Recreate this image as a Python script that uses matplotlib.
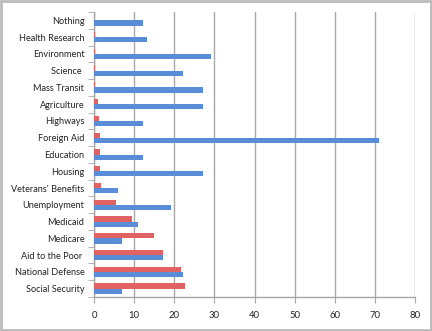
import numpy as np
import matplotlib.pyplot as plt
from matplotlib.patches import Rectangle

# categorias de abajo hacia arriba
categorias = ["Social Security", "National Defense", "Aid to the Poor ", "Medicare",
              "Medicaid", "Unemployment", "Veterans' Benefits", "Housing",
              "Education", "Foreign Aid", "Highways", "Agriculture",
              "Mass Transit", "Science ", "Environment", "Health Research", "Nothing"]

serie_roja = [22.8, 21.8, 17.1, 14.9, 9.5, 5.4, 1.7, 1.6,
              1.6, 1.4, 1.2, 0.9, 0.3, 0.2, 0.2, 0.2, 0.0]
serie_azul = [7.1, 22.1, 17.1, 7.1, 11.0, 19.1, 6.0, 27.1,
              12.1, 71.1, 12.1, 27.1, 27.1, 22.1, 29.1, 13.1, 12.1]

x_ticks = [0, 10, 20, 30, 40, 50, 60, 70, 80]

ROJO = "#E06262"
AZUL = "#5A8DD8"
GRIS = "#A8A8A8"

plt.rcParams["font.family"] = ["Lato", "DejaVu Sans"]

fig = plt.figure(figsize=(4.32, 3.31), dpi=100)
ax = fig.add_axes([94 / 432, 34 / 331, 321 / 432, 285 / 331])

y = np.arange(len(categorias))
h = 0.31
ax.barh(y + h / 2, serie_roja, height=h, color=ROJO, zorder=3)
ax.barh(y - h / 2, serie_azul, height=h, color=AZUL, zorder=3)

ax.set_xlim(0, 80)
ax.set_ylim(-0.5, len(categorias) - 0.5)
ax.set_xticks(x_ticks)
ax.set_xticklabels([str(t) for t in x_ticks], fontsize=6.8, color="#222222")
ax.set_yticks(y)
ax.set_yticklabels(categorias, fontsize=6.6, color="#222222")
ax.set_yticks(np.arange(len(categorias) + 1) - 0.5, minor=True)
ax.tick_params(axis="y", which="major", length=0, pad=7)
ax.tick_params(axis="y", which="minor", length=4, color=GRIS, direction="out")
ax.tick_params(axis="x", length=4, color=GRIS, direction="out", pad=6)

ax.grid(True, axis="x", color=GRIS, linewidth=1, zorder=0)
for lado in ["top", "right"]:
    ax.spines[lado].set_visible(False)
for lado in ["left", "bottom"]:
    ax.spines[lado].set_color(GRIS)
    ax.spines[lado].set_linewidth(1)

# borde gris de la figura
fig.patches.append(Rectangle((0.002, 0.003), 0.995, 0.994, transform=fig.transFigure,
                             fill=False, edgecolor="#BBBBBB", linewidth=2))

fig.savefig("out.png", dpi=100)
